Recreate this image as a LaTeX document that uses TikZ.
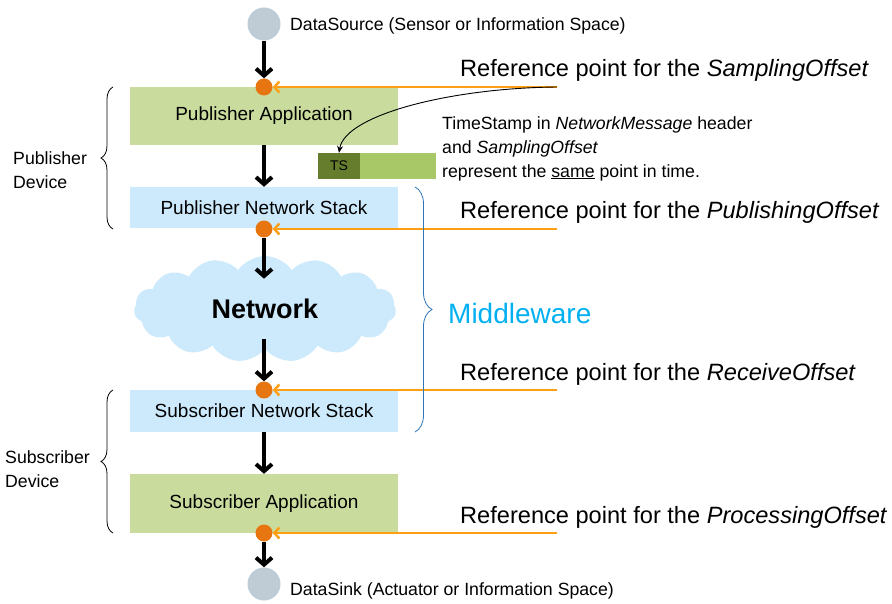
\documentclass[tikz,border=0pt]{standalone}
\usepackage{fontspec}
\setmainfont{Liberation Sans}
\usetikzlibrary{shapes.symbols,decorations.pathreplacing,arrows.meta}
\definecolor{appgreen}{RGB}{201,220,157}
\definecolor{stackblue}{RGB}{204,234,252}
\definecolor{dotorange}{RGB}{232,118,16}
\definecolor{lineorange}{RGB}{255,160,20}
\definecolor{tsdark}{RGB}{103,125,46}
\definecolor{tslight}{RGB}{168,200,104}
\definecolor{endgray}{RGB}{191,204,214}
\definecolor{braceblue}{RGB}{46,117,182}
\definecolor{midblue}{RGB}{0,176,240}
\tikzset{
	layer/.style={rectangle,minimum width=268pt,inner sep=0pt,font=\fontsize{19}{22}\selectfont},
	endpt/.style={circle,fill=endgray,minimum size=33pt,inner sep=0pt},
	refdot/.style={circle,fill=dotorange,minimum size=17pt,inner sep=0pt},
	flow/.style={line width=4pt,-{Straight Barb[length=7pt,width=16pt]}},
	refline/.style={lineorange,line width=2.5pt,-{Straight Barb[length=5pt,width=11pt]}},
	devbrace/.style={decorate,decoration={brace,amplitude=12pt},line width=0.8pt},
	txt/.style={font=\fontsize{17.7}{24}\selectfont,inner sep=0pt}
}
\begin{document}
\begin{tikzpicture}[x=1pt,y=-1pt]
		\useasboundingbox (0,0) rectangle (892,604);
		\node[endpt] (src) at (264,24) {};
		\node[txt,anchor=base west] (srctxt) at (290,31) {DataSource (Sensor or Information Space)};
		\node[layer,fill=appgreen,minimum height=58pt] (pubapp) at (264,116) {Publisher Application};
		\node[layer,fill=stackblue,minimum height=41pt] (pubstack) at (264,207.5) {Publisher Network Stack};
		\node[cloud,cloud puffs=15,cloud puff arc=110,aspect=2.6,fill=stackblue,minimum width=262pt,minimum height=106pt,inner sep=0pt,font=\fontsize{27}{30}\selectfont\bfseries] (net) at (265,309) {Network};
		\node[layer,fill=stackblue,minimum height=42pt] (substack) at (264,411) {Subscriber Network Stack};
		\node[layer,fill=appgreen,minimum height=59pt] (subapp) at (264,503.5) {Subscriber Application};
		\node[endpt] (sink) at (264,584) {};
		\node[txt,anchor=base west] (sinktxt) at (290,595) {DataSink (Actuator or Information Space)};
		\foreach \i/\y/\off in {1/87/SamplingOffset,2/229/PublishingOffset,3/390/ReceiveOffset,4/533/ProcessingOffset}{
			\node[refdot] (dot\i) at (264,\y) {};
			\coordinate (ref\i) at (557,\y);
			\draw[refline] (ref\i) -- (dot\i.east);
			\node[anchor=base west,inner sep=0pt,font=\fontsize{23.6}{27}\selectfont] (reftxt\i) at (460,\y-10) {Reference point for the \textit{\off}};}
		\draw[flow] (src.south) -- (dot1.north);
		\draw[flow] (pubapp.south) -- (pubstack.north);
		\draw[flow] (dot2.south) -- ++(0,41);
		\draw[flow] ([yshift=42pt]dot3.north) -- (dot3.north);
		\draw[flow] (substack.south) -- (subapp.north);
		\draw[flow] (dot4.south) -- (sink.north);
		\node[fill=tsdark,minimum width=42pt,minimum height=26pt,inner sep=0pt,font=\fontsize{14}{16}\selectfont] (ts) at (339,166) {TS};
		\node[fill=tslight,anchor=west,minimum width=76pt,minimum height=26pt,inner sep=0pt] (tsrest) at (ts.east) {};
		\draw[-{Stealth[length=7pt,width=6pt]},line width=0.9pt] (ref1) .. controls (450,88) and (345,115) .. (ts.north);
		\node[txt,align=left,anchor=north west] (note) at (442,116) {TimeStamp in \textit{NetworkMessage} header\\and \textit{SamplingOffset}\\represent the \underline{same} point in time.};
		\draw[devbrace] (113,229) -- (113,87);
		\node[txt,align=left,anchor=west] (pubdev) at (13,170) {Publisher\\Device};
		\draw[devbrace] (113,533) -- (113,390);
		\node[txt,align=left,anchor=west] (subdev) at (5,469) {Subscriber\\Device};
		\draw[devbrace,braceblue,decoration={amplitude=17pt}] (415,187) -- (415,432);
		\node[anchor=west,inner sep=0pt,text=midblue,font=\fontsize{28}{32}\selectfont] (mid) at (448,313) {Middleware};
\end{tikzpicture}
\end{document}
